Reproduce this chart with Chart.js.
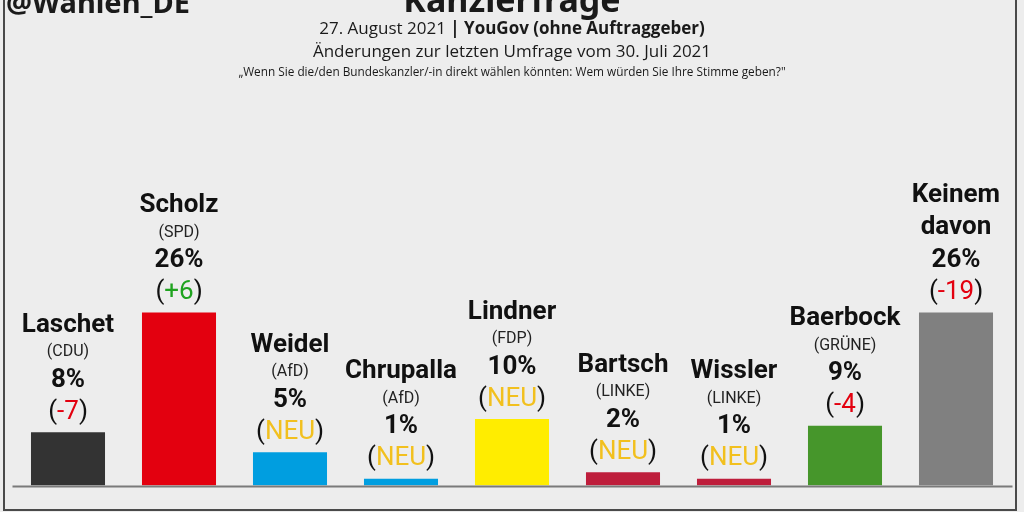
<!DOCTYPE html>
<html>
<head>
<meta charset="utf-8">
<script src="https://cdn.jsdelivr.net/npm/chart.js@4"></script>
<style>
  html, body { margin: 0; padding: 0; background: #ededed; }
  #wrap { position: relative; width: 1024px; height: 512px; overflow: hidden; background: #ededed; }
  #frame { position: absolute; left: 3px; top: -4px; width: 1014px; height: 515px; border: 2px solid #4a4a4a; box-sizing: border-box; pointer-events: none; }
  .hd { position: absolute; left: 0; width: 1024px; text-align: center; color: #1a1a1a; font-family: "Open Sans", sans-serif; white-space: nowrap; }
  #handle { position: absolute; left: 6px; top: -18px; font-family: "Noto Sans", sans-serif; font-weight: 700; font-size: 29px; color: #1a1a1a; }
  #title { top: -24px; font-family: "Noto Sans", sans-serif; font-weight: 700; font-size: 34px; }
  #line1 { top: 16px; font-size: 17px; }
  #line2 { top: 39px; font-size: 17px; }
  #line3 { top: 63px; font-size: 11.8px; }
  canvas { position: absolute; left: 0; top: 0; }
</style>
</head>
<body>
<div id="wrap">
  <canvas id="chart" width="1024" height="512"></canvas>
  <div id="handle">@Wahlen_DE</div>
  <div class="hd" id="title">Kanzlerfrage</div>
  <div class="hd" id="line1">27. August 2021 <b>| YouGov (ohne Auftraggeber)</b></div>
  <div class="hd" id="line2">Änderungen zur letzten Umfrage vom 30. Juli 2021</div>
  <div class="hd" id="line3">„Wenn Sie die/den Bundeskanzler/-in direkt wählen könnten: Wem würden Sie Ihre Stimme geben?"</div>
  <div id="frame"></div>
</div>
<script>
const CANDIDATES = ["Laschet", "Scholz", "Weidel", "Chrupalla", "Lindner", "Bartsch", "Wissler", "Baerbock", "Keinem davon"];
const NAME_LINES = [["Laschet"], ["Scholz"], ["Weidel"], ["Chrupalla"], ["Lindner"], ["Bartsch"], ["Wissler"], ["Baerbock"], ["Keinem", "davon"]];
const PARTIES = ["CDU", "SPD", "AfD", "AfD", "FDP", "LINKE", "LINKE", "GRÜNE", ""];
const VALUES = [8, 26, 5, 1, 10, 2, 1, 9, 26];
const CHANGES = ["-7", "+6", "NEU", "NEU", "NEU", "NEU", "NEU", "-4", "-19"];
const BAR_COLORS = ["#333333", "#e3000f", "#009ee0", "#009ee0", "#ffed00", "#be1e3c", "#be1e3c", "#46962b", "#808080"];

function changeColor(change) {
  if (change === "NEU") return "#f2c01e";
  if (change.startsWith("+")) return "#1fa31f";
  return "#e3000f";
}

const labelPlugin = {
  id: "barLabels",
  afterDatasetsDraw(chart) {
    const ctx = chart.ctx;
    const meta = chart.getDatasetMeta(0);
    const yScale = chart.scales.y;
    const area = chart.chartArea;

    // baseline
    const y0 = yScale.getPixelForValue(0);
    ctx.save();
    ctx.strokeStyle = "#7a7a7a";
    ctx.lineWidth = 2;
    ctx.beginPath();
    ctx.moveTo(area.left, y0 + 1);
    ctx.lineTo(area.right + 1, y0 + 1);
    ctx.stroke();

    ctx.textBaseline = "middle";
    meta.data.forEach((bar, i) => {
      const x = bar.x;
      const top = bar.y;

      // change in parentheses
      const change = CHANGES[i];
      ctx.font = "26px Roboto";
      const pw = ctx.measureText("(").width;
      const cw = ctx.measureText(change).width;
      const cx = x - (pw * 2 + cw) / 2;
      ctx.textAlign = "left";
      ctx.fillStyle = "#111111";
      ctx.fillText("(", cx, top - 20);
      ctx.fillStyle = changeColor(change);
      ctx.fillText(change, cx + pw, top - 20);
      ctx.fillStyle = "#111111";
      ctx.fillText(")", cx + pw + cw, top - 20);
      ctx.textAlign = "center";

      // percentage
      ctx.font = "bold 26px Roboto";
      ctx.fillStyle = "#111111";
      ctx.fillText(VALUES[i] + "%", x, top - 52);

      // party
      let nameY;
      if (PARTIES[i]) {
        ctx.font = "16px Roboto";
        ctx.fillStyle = "#222222";
        ctx.fillText("(" + PARTIES[i] + ")", x, top - 80);
        nameY = top - 107;
      } else {
        nameY = top - 85;
      }

      // name lines
      ctx.font = "bold 26px Roboto";
      ctx.fillStyle = "#111111";
      const lines = NAME_LINES[i];
      lines.forEach((line, k) => {
        ctx.fillText(line, x, nameY - (lines.length - 1 - k) * 32);
      });
    });
    ctx.restore();
  },
};

new Chart(document.getElementById("chart"), {
  type: "bar",
  data: {
    labels: CANDIDATES,
    datasets: [
      {
        data: VALUES,
        backgroundColor: BAR_COLORS,
        borderWidth: 0,
        barPercentage: 0.667,
        categoryPercentage: 1,
      },
    ],
  },
  options: {
    responsive: false,
    animation: false,
    devicePixelRatio: 1,
    layout: { padding: { left: 12.5, right: 12.5, top: 153, bottom: 26.5 } },
    plugins: {
      legend: { display: false },
      tooltip: { enabled: false },
    },
    scales: {
      x: { display: false },
      y: { display: false, min: 0, max: 50 },
    },
  },
  plugins: [labelPlugin],
});
</script>
</body>
</html>
